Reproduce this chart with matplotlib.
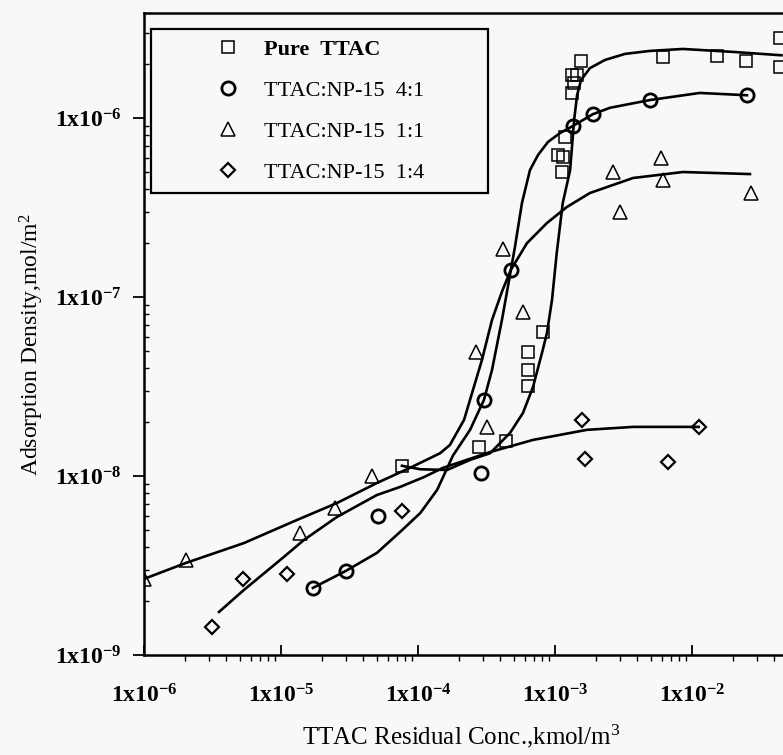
import numpy as np
import matplotlib
matplotlib.use('Agg')
import matplotlib.pyplot as plt
from matplotlib.lines import Line2D

plt.rcParams['font.family'] = ['Liberation Serif', 'DejaVu Serif']
plt.rcParams['mathtext.fontset'] = 'custom'
plt.rcParams['mathtext.rm'] = 'Liberation Serif'
plt.rcParams['mathtext.it'] = 'Liberation Serif:italic'
plt.rcParams['mathtext.bf'] = 'Liberation Serif:bold'

sq_x = [7.6e-5, 2.8e-4, 4.4e-4, 6.4e-4, 6.4e-4, 6.4e-4, 8.2e-4, 1.05e-3, 1.14e-3, 1.12e-3,
        1.18e-3, 1.33e-3, 1.33e-3, 1.45e-3, 1.38e-3, 1.55e-3, 6.1e-3, 1.52e-2, 2.48e-2, 4.4e-2, 4.4e-2]
sq_y = [1.14e-8, 1.45e-8, 1.57e-8, 4.9e-8, 3.9e-8, 3.2e-8, 6.4e-8, 6.2e-7, 6.05e-7, 5.0e-7,
        7.8e-7, 1.38e-6, 1.74e-6, 1.74e-6, 1.57e-6, 2.08e-6, 2.19e-6, 2.22e-6, 2.08e-6, 2.8e-6, 1.93e-6]

ci_x = [1.71e-5, 2.98e-5, 5.1e-5, 2.88e-4, 3.03e-4, 4.77e-4, 1.35e-3, 1.89e-3, 4.94e-3, 2.52e-2]
ci_y = [2.37e-9, 2.95e-9, 5.98e-9, 1.04e-8, 2.66e-8, 1.42e-7, 9.0e-7, 1.05e-6, 1.26e-6, 1.34e-6]

tr_x = [1.0e-6, 2.03e-6, 1.38e-5, 2.48e-5, 4.62e-5, 3.19e-4, 2.65e-4, 5.83e-4, 4.17e-4,
        2.65e-3, 2.98e-3, 5.94e-3, 6.1e-3, 2.70e-2]
tr_y = [2.66e-9, 3.40e-9, 4.80e-9, 6.63e-9, 1.0e-8, 1.88e-8, 4.93e-8, 8.25e-8, 1.85e-7,
        4.99e-7, 2.99e-7, 5.98e-7, 4.50e-7, 3.81e-7]

di_x = [3.14e-6, 5.28e-6, 1.11e-5, 7.64e-5, 1.57e-3, 1.66e-3, 6.68e-3, 1.12e-2]
di_y = [1.43e-9, 2.66e-9, 2.83e-9, 6.37e-9, 2.05e-8, 1.24e-8, 1.20e-8, 1.88e-8]

# fitted curves
sq_fit_x = [7.64e-5, 1.04e-4, 1.63e-4, 2.40e-4, 3.36e-4, 4.70e-4, 5.84e-4, 6.91e-4, 8.04e-4, 8.74e-4,
            9.51e-4, 1.03e-3, 1.14e-3, 1.29e-3, 1.38e-3, 1.45e-3, 1.55e-3, 1.80e-3, 2.32e-3, 3.24e-3,
            4.94e-3, 8.59e-3, 1.99e-2, 4.5e-2]
sq_fit_y = [1.14e-8, 1.09e-8, 1.08e-8, 1.23e-8, 1.34e-8, 1.74e-8, 2.25e-8, 3.14e-8, 4.87e-8, 6.29e-8,
            9.62e-8, 1.76e-7, 3.35e-7, 5.12e-7, 9.75e-7, 1.34e-6, 1.63e-6, 1.90e-6, 2.11e-6, 2.28e-6,
            2.37e-6, 2.43e-6, 2.34e-6, 2.24e-6]

ci_fit_x = [1.71e-5, 2.98e-5, 5.02e-5, 7.39e-5, 1.04e-4, 1.38e-4, 1.80e-4, 2.40e-4, 3.03e-4, 3.47e-4,
            4.10e-4, 4.77e-4, 5.10e-4, 5.74e-4, 6.57e-4, 7.52e-4, 8.89e-4, 1.09e-3, 1.35e-3, 1.89e-3,
            2.52e-3, 4.94e-3, 1.14e-2, 2.52e-2]
ci_fit_y = [2.37e-9, 2.95e-9, 3.72e-9, 4.86e-9, 6.21e-9, 8.36e-9, 1.30e-8, 1.81e-8, 2.66e-8, 3.91e-8,
            7.44e-8, 1.42e-7, 1.90e-7, 3.35e-7, 5.12e-7, 6.21e-7, 7.35e-7, 8.24e-7, 9.02e-7, 1.05e-6,
            1.14e-6, 1.26e-6, 1.38e-6, 1.34e-6]

tr_fit_x = [1.0e-6, 2.03e-6, 5.37e-6, 1.31e-5, 2.56e-5, 5.02e-5, 8.74e-5, 1.45e-4, 1.71e-4, 2.17e-4,
            2.93e-4, 3.47e-4, 4.10e-4, 4.77e-4, 6.25e-4, 8.74e-4, 1.22e-3, 1.80e-3, 3.71e-3, 8.59e-3,
            2.65e-2]
tr_fit_y = [2.66e-9, 3.27e-9, 4.22e-9, 5.68e-9, 7.06e-9, 9.14e-9, 1.11e-8, 1.34e-8, 1.49e-8, 2.06e-8,
            4.45e-8, 7.44e-8, 1.07e-7, 1.42e-7, 2.00e-7, 2.59e-7, 3.18e-7, 3.81e-7, 4.62e-7, 4.99e-7,
            4.86e-7]

di_fit_x = [3.53e-6, 5.37e-6, 1.05e-5, 1.47e-5, 2.56e-5, 5.02e-5, 7.39e-5, 1.11e-4, 1.52e-4, 3.36e-4,
            6.91e-4, 1.71e-3, 3.71e-3, 1.12e-2]
di_fit_y = [1.74e-9, 2.31e-9, 3.53e-9, 4.39e-9, 5.90e-9, 7.83e-9, 8.68e-9, 9.87e-9, 1.11e-8, 1.36e-8,
            1.59e-8, 1.81e-8, 1.88e-8, 1.88e-8]

labels = ['Pure  TTAC', 'TTAC:NP-15  4:1', 'TTAC:NP-15  1:1', 'TTAC:NP-15  1:4']

xtick_vals = [1e-6, 1e-5, 1e-4, 1e-3, 1e-2]
xtick_labels = [r'$\mathbf{1x10^{-6}}$', r'$\mathbf{1x10^{-5}}$', r'$\mathbf{1x10^{-4}}$',
                r'$\mathbf{1x10^{-3}}$', r'$\mathbf{1x10^{-2}}$']
ytick_vals = [1e-9, 1e-8, 1e-7, 1e-6]
ytick_labels = [r'$\mathbf{1x10^{-9}}$', r'$\mathbf{1x10^{-8}}$', r'$\mathbf{1x10^{-7}}$',
                r'$\mathbf{1x10^{-6}}$']

bg = '#f8f8f8'
fig = plt.figure(figsize=(7.83, 7.55), dpi=100, facecolor=bg)
ax = fig.add_axes([0.1839, 0.1325, 0.8748, 0.8503], facecolor=bg)
ax.set_xscale('log')
ax.set_yscale('log')
ax.set_xlim(1e-6, 1e-1)
ax.set_ylim(1e-9, 3.86e-6)

lw_fit = 1.9
for fx, fy in [(sq_fit_x, sq_fit_y), (ci_fit_x, ci_fit_y), (tr_fit_x, tr_fit_y), (di_fit_x, di_fit_y)]:
    ax.plot(fx, fy, '-', color='black', lw=lw_fit, solid_joinstyle='round', zorder=2)

ax.plot(sq_x, sq_y, 's', ms=8.5, mfc='none', mec='black', mew=1.1, ls='none', zorder=3)
ax.plot(ci_x, ci_y, 'o', ms=9.5, mfc='none', mec='black', mew=2.0, ls='none', zorder=3)
ax.plot(tr_x, tr_y, '^', ms=10.5, mfc='none', mec='black', mew=1.1, ls='none', zorder=3)
ax.plot(di_x, di_y, 'D', ms=6.8, mfc='none', mec='black', mew=1.6, ls='none', zorder=3)

handles = [
    Line2D([], [], marker='s', ms=8.5, mfc='none', mec='black', mew=1.1, ls='none'),
    Line2D([], [], marker='o', ms=9.5, mfc='none', mec='black', mew=2.0, ls='none'),
    Line2D([], [], marker='^', ms=10.5, mfc='none', mec='black', mew=1.1, ls='none'),
    Line2D([], [], marker='D', ms=6.8, mfc='none', mec='black', mew=1.6, ls='none'),
]
leg = ax.legend(handles, labels, loc='upper left', bbox_to_anchor=(0.0102, 0.688, 0.492, 0.287),
                mode='expand', borderaxespad=0, fontsize=16, labelspacing=0.92, borderpad=0.45,
                handlelength=6.0, handletextpad=-1.35, fancybox=False, framealpha=1,
                edgecolor='black', facecolor=bg)
leg.get_frame().set_linewidth(1.6)
leg.get_texts()[0].set_fontweight('bold')

ax.set_xticks(xtick_vals)
ax.set_xticklabels(xtick_labels, fontsize=17)
ax.set_yticks(ytick_vals)
ax.set_yticklabels(ytick_labels, fontsize=17)

ax.tick_params(axis='x', which='major', direction='in', length=7, width=1.3, pad=21)
ax.tick_params(axis='x', which='minor', direction='out', length=4.5, width=1.0)
ax.tick_params(axis='y', which='major', direction='out', length=8, width=1.3, pad=8)
ax.tick_params(axis='y', which='minor', direction='in', length=3.5, width=1.0)

for s in ax.spines.values():
    s.set_linewidth(1.8)

ax.set_xlabel('TTAC Residual Conc.,kmol/m$^3$', fontsize=18)
ax.xaxis.set_label_coords(0.463, -0.106)
ax.set_ylabel('Adsorption Density,mol/m$^2$', fontsize=17)
ax.yaxis.set_label_coords(-0.143, 0.483)

fig.savefig('out.png', dpi=100, facecolor=bg)
